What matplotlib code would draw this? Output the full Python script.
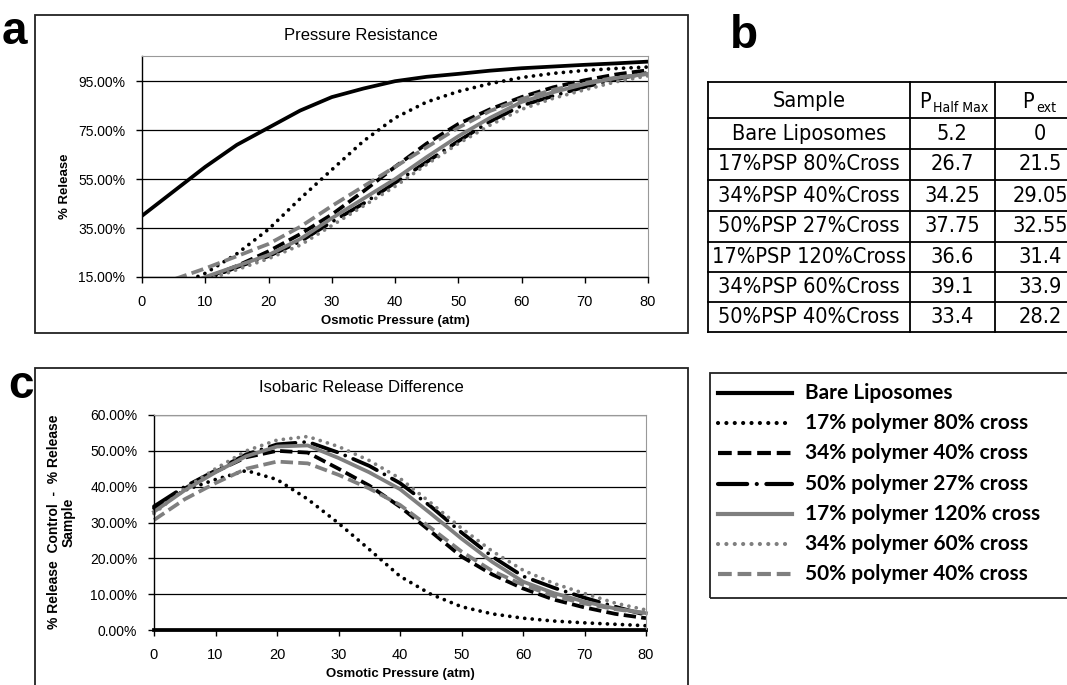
import os
import matplotlib
matplotlib.use('Agg')
import matplotlib.pyplot as plt
from matplotlib import font_manager as fm
from matplotlib.lines import Line2D
from matplotlib.patches import Rectangle
from matplotlib.ticker import FuncFormatter

# ---- data ----
pressure = [0, 5, 10, 15, 20, 25, 30, 35, 40, 45, 50, 55, 60, 65, 70, 75, 80]

labels = ['Bare Liposomes', '17% polymer 80% cross', '34% polymer 40% cross',
          '50% polymer 27% cross', '17% polymer 120% cross',
          '34% polymer 60% cross', '50% polymer 40% cross']

# panel a: % release
rel_bare = [40, 50, 60, 69, 76, 83, 88.5, 92, 95, 96.8, 98, 99.3, 100.3, 101, 101.7, 102.3, 103]
rel_17_80 = [6, 11, 16.5, 24.5, 34.5, 47, 58.8, 70.5, 80, 86.5, 90.8, 94, 96.5, 98.2, 99.4, 100.2, 100.8]
rel_34_40 = [6, 9.5, 14.5, 19.5, 25.5, 32.5, 40.5, 50, 60, 69.5, 77.5, 83.5, 88.5, 92.5, 95.4, 97.8, 99.5]
rel_50_27 = [5, 9, 14, 19, 23.5, 29.5, 37.5, 45, 53.5, 62, 70.5, 78.5, 85, 89, 92.7, 95.8, 98.5]
rel_17_120 = [6.5, 10, 15, 19.5, 24, 30.5, 39, 47, 55, 64, 72.5, 80, 86.5, 90.5, 93.8, 96.3, 98]
rel_34_60 = [6, 9, 13.5, 18, 22.5, 28, 36, 44, 52, 61, 69.5, 77, 83.5, 88, 91.5, 94.8, 97.2]
rel_50_40 = [9, 14, 18.5, 23.5, 28.5, 35.5, 44, 52, 60, 68, 76, 82.8, 87.7, 91.5, 94.3, 96.5, 98]

# panel c: % release control - % release sample
diff_bare = [0] * 17
diff_17_80 = [34, 39, 42, 44.5, 42, 36.5, 29.8, 22.5, 15, 10, 6.5, 4.5, 3.3, 2.5, 2, 1.6, 1.2]
diff_34_40 = [33.5, 39.5, 44.2, 48.2, 50, 49.5, 45, 40.3, 34.4, 27.5, 20.5, 15.5, 11.6, 8.5, 6.3, 4.5, 3.3]
diff_50_27 = [34.5, 40, 44.5, 49, 51.8, 52.5, 49.5, 45.8, 41, 34.5, 27.2, 20.5, 15, 11.8, 9, 6.5, 4.2]
diff_17_120 = [33, 39, 44, 48.5, 51.2, 51.5, 48, 44, 39.3, 32.5, 25.5, 19, 13.5, 10.3, 7.9, 6, 4.7]
diff_34_60 = [32.5, 39.5, 45, 50, 53, 54, 51.2, 47.3, 42.3, 35.5, 28.4, 22, 16.7, 13, 10.2, 7.5, 5.6]
diff_50_40 = [30.7, 36.5, 41, 45, 47, 46.5, 43.3, 39.5, 34.9, 28.5, 21.9, 16.5, 12.6, 9.5, 7.4, 5.8, 4.7]

# panel b table
tbl_sample = ['Bare Liposomes', '17%PSP 80%Cross', '34%PSP 40%Cross', '50%PSP 27%Cross',
              '17%PSP 120%Cross', '34%PSP 60%Cross', '50%PSP 40%Cross']
tbl_phalf = ['5.2', '26.7', '34.25', '37.75', '36.6', '39.1', '33.4']
tbl_pext = ['0', '21.5', '29.05', '32.55', '31.4', '33.9', '28.2']

release = [rel_bare, rel_17_80, rel_34_40, rel_50_27, rel_17_120, rel_34_60, rel_50_40]
diffs = [diff_bare, diff_17_80, diff_34_40, diff_50_27, diff_17_120, diff_34_60, diff_50_40]

W, H = 1067, 685
GRAY = '#7f7f7f'
LW = 2.7
styles = [
    dict(color='black', ls='-'),
    dict(color='black', ls=(0, (0.01, 2.0)), dash_capstyle='round'),
    dict(color='black', ls=(0, (3.3, 1.4))),
    dict(color='black', ls=(0, (7, 2.3, 0.01, 2.3)), dash_capstyle='round'),
    dict(color=GRAY, ls='-'),
    dict(color=GRAY, ls=(0, (0.01, 2.0)), dash_capstyle='round'),
    dict(color=GRAY, ls=(0, (3.3, 1.4))),
]

plt.rcParams['font.family'] = ['Liberation Sans', 'DejaVu Sans']

# a narrow face for the table if one is installed
narrow_file = None
for f in fm.fontManager.ttflist:
    base = os.path.basename(f.fname)
    if base in ('LiberationSansNarrow-Regular.ttf', 'DejaVuSansCondensed.ttf',
                'RobotoCondensed-Regular.ttf', 'OpenSans_Condensed-Regular.ttf'):
        narrow_file = f.fname
        break
if narrow_file:
    tprop = fm.FontProperties(fname=narrow_file)
else:
    tprop = fm.FontProperties(family='Liberation Sans')


def fx(px):
    return px / W


def fy(py):
    return 1 - py / H


fig = plt.figure(figsize=(W / 100, H / 100), dpi=100)


def setup(ax, ylo, yhi, yticks):
    ax.set_xlim(0, 80)
    ax.set_ylim(ylo, yhi)
    ax.set_xticks(range(0, 81, 10))
    ax.set_yticks(yticks)
    ax.yaxis.set_major_formatter(FuncFormatter(lambda v, p: f'{v:.2f}%'))
    ax.grid(axis='y', color='black', lw=0.9)
    ax.set_axisbelow(True)
    for s in ['top', 'right']:
        ax.spines[s].set_color('#999999')
        ax.spines[s].set_linewidth(0.8)
    for s in ['left', 'bottom']:
        ax.spines[s].set_color('black')
        ax.spines[s].set_linewidth(1.0)
    ax.tick_params(axis='both', direction='out', length=4, width=1)
    ax.tick_params(axis='y', pad=8, labelsize=10)
    ax.tick_params(axis='x', pad=9, labelsize=10.5)


# panel a
ax_a = fig.add_axes([fx(142), fy(277), fx(648) - fx(142), fy(56) - fy(277)])
setup(ax_a, 15, 105.3, [15, 35, 55, 75, 95])
for vals, st in zip(release, styles):
    ax_a.plot(pressure, vals, lw=LW, **st)
ax_a.set_xlabel('Osmotic Pressure (atm)', fontsize=9.5, weight='bold', labelpad=4)

# panel c
ax_c = fig.add_axes([fx(154), fy(630), fx(646) - fx(154), fy(415) - fy(630)])
setup(ax_c, 0, 60, range(0, 61, 10))
for vals, st in zip(diffs, styles):
    ax_c.plot(pressure, vals, lw=LW, clip_on=False, **st)
ax_c.set_xlabel('Osmotic Pressure (atm)', fontsize=9.5, weight='bold', labelpad=4)

# titles, y labels, letters
fig.text(fx(361), fy(35), 'Pressure Resistance', ha='center', va='center', fontsize=12)
fig.text(fx(361), fy(388), 'Isobaric Release Difference', ha='center', va='center', fontsize=12)
fig.text(fx(65), fy(186), '% Release', rotation=90, ha='center', va='center',
         fontsize=9.5, weight='bold')
fig.text(fx(61), fy(522), '% Release  Control  -  % Release\nSample', rotation=90,
         ha='center', va='center', fontsize=10, weight='bold', linespacing=1.05)
for x0, y0, t in [(2, 44, 'a'), (730, 48, 'b'), (8, 398, 'c')]:
    fig.text(fx(x0), fy(y0), t, ha='left', va='baseline', fontsize=33, weight='bold')

# outer boxes of panels a and c
fig.patches.append(Rectangle((fx(35), fy(333)), fx(688) - fx(35), fy(15) - fy(333),
                             transform=fig.transFigure, fill=False, ec='#222222', lw=1.3))
fig.patches.append(Rectangle((fx(35), fy(700)), fx(688) - fx(35), fy(368) - fy(700),
                             transform=fig.transFigure, fill=False, ec='#222222', lw=1.3))

# panel b table
row_y = [82, 118, 149, 180, 211, 242, 272, 302, 332]
col_x = [708, 910, 995, 1090]
for yy in row_y:
    fig.add_artist(Line2D([fx(708), fx(1090)], [fy(yy), fy(yy)], color='black', lw=1.3))
for xx in col_x:
    fig.add_artist(Line2D([fx(xx), fx(xx)], [fy(82), fy(332)], color='black', lw=1.3))

tsize = 17
tbl_texts = []
tbl_texts.append(fig.text(fx(809), fy(101), 'Sample', fontproperties=tprop,
                          fontsize=tsize, ha='center', va='center'))
sub_texts = []
sub_texts.append(fig.text(fx(919), fy(108), 'P', fontproperties=tprop, fontsize=tsize,
                          ha='left', va='baseline'))
sub_texts.append(fig.text(fx(933), fy(112), 'Half Max', fontproperties=tprop, fontsize=11,
                          ha='left', va='baseline'))
sub_texts.append(fig.text(fx(1022), fy(108), 'P', fontproperties=tprop, fontsize=tsize,
                          ha='left', va='baseline'))
sub_texts.append(fig.text(fx(1036), fy(112), 'ext', fontproperties=tprop, fontsize=11,
                          ha='left', va='baseline'))
sample_texts = []
for i in range(len(tbl_sample)):
    yc = (row_y[i + 1] + row_y[i + 2]) / 2
    sample_texts.append(fig.text(fx(809), fy(yc), tbl_sample[i], fontproperties=tprop,
                                 fontsize=tsize, ha='center', va='center'))
    tbl_texts.append(fig.text(fx(952), fy(yc), tbl_phalf[i], fontproperties=tprop,
                              fontsize=tsize, ha='center', va='center'))
    tbl_texts.append(fig.text(fx(1040), fy(yc), tbl_pext[i], fontproperties=tprop,
                              fontsize=tsize, ha='center', va='center'))

# shrink the table text so the widest sample name fits its column
renderer = fig.canvas.get_renderer()
widest = max(t.get_window_extent(renderer).width for t in sample_texts)
scale = min(1.0, 194 / widest)
for t in sample_texts + tbl_texts:
    t.set_fontsize(tsize * scale)
for t in sub_texts:
    t.set_fontsize(t.get_fontsize() * max(scale, 0.9))

# legend (cut by the right edge like the reference)
fig.patches.append(Rectangle((fx(710), fy(598)), fx(1100) - fx(710), fy(373) - fy(598),
                             transform=fig.transFigure, fill=False, ec='#222222', lw=1.3))
leg_y = [393, 423, 453, 484, 514, 544, 574]
for lab, st, yy in zip(labels, styles, leg_y):
    fig.add_artist(Line2D([fx(718), fx(792)], [fy(yy), fy(yy)], lw=3.0, **st))
    fig.text(fx(805), fy(yy), lab, ha='left', va='center', fontsize=15, weight='bold',
             family=['Lato', 'DejaVu Sans'])

fig.savefig('out.png', dpi=100)
